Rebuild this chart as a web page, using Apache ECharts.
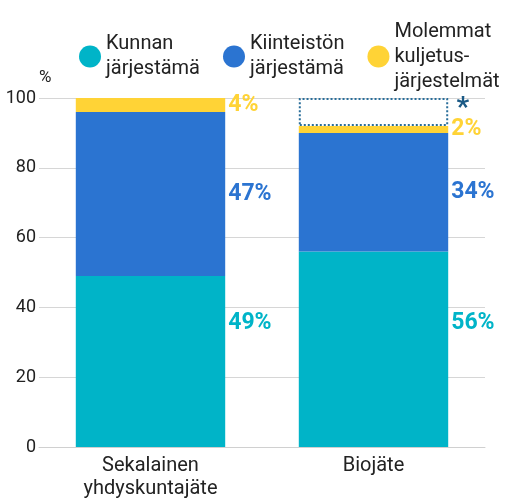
<!DOCTYPE html>
<html>
<head>
<meta charset="utf-8">
<script src="https://cdn.jsdelivr.net/npm/echarts@6/dist/echarts.min.js"></script>
<style>
  html, body { margin: 0; padding: 0; background: #fff; }
  #chart { width: 505px; height: 500px; }
</style>
</head>
<body>
<div id="chart"></div>
<script>
var categories = ["Sekalainen\nyhdyskuntajäte", "Biojäte"];
var seriesNames = ["Kunnan\njärjestämä", "Kiinteistön\njärjestämä", "Molemmat\nkuljetus-\njärjestelmät"];
var kunnan = [49, 56];
var kiinteiston = [47, 34];
var molemmat = [4, 2];
var puuttuu = [0, 8]; // dotted box, marked with *
var yTicks = [0, 20, 40, 60, 80, 100];

var colors = ["#00B4C8", "#2B74D1", "#FFD336"];

var chart = echarts.init(document.getElementById("chart"));

// cyan labels sit at roughly the same height on both bars
var cyanLabelY = 35.5;
var pxPerUnit = 3.5;

var option = {
  textStyle: { fontFamily: "Roboto" },
  legend: {
    top: 14,
    left: 74,
    width: 600,
    itemWidth: 22,
    itemHeight: 22,
    itemGap: 23,
    icon: "circle",
    data: seriesNames,
    textStyle: { fontSize: 20, color: "#222", lineHeight: 25, fontFamily: "Roboto" }
  },
  grid: { left: 39, right: 20, top: 98, bottom: 52 },
  xAxis: {
    type: "category",
    data: categories,
    axisTick: { show: false },
    axisLine: { lineStyle: { color: "#d0d0d0" } },
    axisLabel: { fontSize: 20, color: "#222", lineHeight: 23, margin: 7, fontFamily: "Roboto" }
  },
  yAxis: {
    type: "value",
    min: yTicks[0],
    max: yTicks[yTicks.length - 1],
    interval: 20,
    name: "%",
    nameGap: 12,
    nameTextStyle: { fontSize: 17, color: "#222", align: "left", fontFamily: "Roboto" },
    axisLine: { show: false },
    axisTick: { show: false },
    splitLine: { lineStyle: { color: "#d6d6d6" } },
    axisLabel: { fontSize: 18, color: "#222", margin: 3, fontFamily: "Roboto" }
  },
  series: [
    {
      name: seriesNames[0],
      type: "bar",
      stack: "a",
      barWidth: "67%",
      itemStyle: { color: colors[0] },
      data: kunnan.map(function (v) {
        return {
          value: v,
          label: { offset: [0, -(cyanLabelY - v / 2) * pxPerUnit] }
        };
      }),
      label: {
        show: true, position: "right", distance: 3,
        formatter: "{c}%", fontSize: 23, fontWeight: "bold", color: colors[0]
      }
    },
    {
      name: seriesNames[1],
      type: "bar",
      stack: "a",
      itemStyle: { color: colors[1] },
      data: kiinteiston,
      label: {
        show: true, position: "right", distance: 3,
        formatter: "{c}%", fontSize: 23, fontWeight: "bold", color: colors[1]
      }
    },
    {
      name: seriesNames[2],
      type: "bar",
      stack: "a",
      itemStyle: { color: colors[2] },
      data: molemmat,
      label: {
        show: true, position: "right", distance: 3,
        formatter: "{c}%", fontSize: 23, fontWeight: "bold", color: colors[2]
      }
    },
    {
      name: "puuttuu",
      type: "bar",
      stack: "a",
      itemStyle: {
        color: "rgba(0,0,0,0)",
        borderColor: "#2A6E9A",
        borderWidth: 2,
        borderType: "dotted"
      },
      data: puuttuu.map(function (v) {
        return v ? v : { value: 0, itemStyle: { borderWidth: 0 } };
      }),
      label: {
        show: true, position: "insideTopRight", offset: [26, -8],
        formatter: function (p) { return p.value ? "*" : ""; },
        fontSize: 28, fontWeight: "bold", color: "#1B5A86"
      }
    }
  ]
};

chart.setOption(option);
</script>
</body>
</html>
